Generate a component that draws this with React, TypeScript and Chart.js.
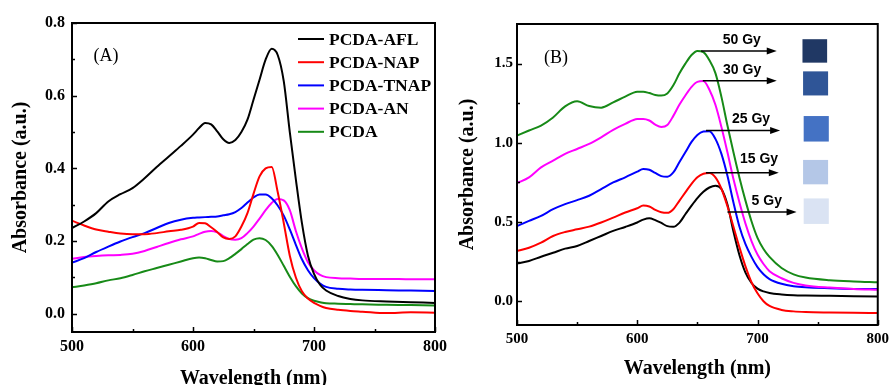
import React, { useEffect, useRef } from 'react';
import { Chart, registerables } from 'chart.js';
Chart.register(...registerables);

// ---------- data ----------
const wavelengths = [500, 510, 520, 530, 540, 550, 560, 570, 580, 590, 600, 605, 610, 615, 620, 625, 630, 635, 640, 645, 650, 655, 660, 665, 670, 675, 680, 685, 690, 695, 700, 705, 710, 720, 730, 740, 760, 780, 800];

// Panel A
const pcdaAFL = [0.236, 0.254, 0.277, 0.309, 0.329, 0.346, 0.373, 0.404, 0.433, 0.462, 0.493, 0.511, 0.525, 0.521, 0.502, 0.480, 0.470, 0.478, 0.500, 0.534, 0.589, 0.644, 0.699, 0.729, 0.712, 0.640, 0.500, 0.370, 0.250, 0.160, 0.110, 0.080, 0.064, 0.049, 0.041, 0.037, 0.034, 0.032, 0.030];
const pcdaNAP = [0.256, 0.243, 0.232, 0.226, 0.221, 0.219, 0.219, 0.222, 0.227, 0.231, 0.240, 0.250, 0.249, 0.238, 0.225, 0.210, 0.206, 0.213, 0.240, 0.277, 0.330, 0.378, 0.400, 0.404, 0.335, 0.250, 0.160, 0.100, 0.062, 0.042, 0.030, 0.022, 0.016, 0.011, 0.008, 0.006, 0.002, 0.004, 0.003];
const pcdaTNAP = [0.141, 0.153, 0.170, 0.185, 0.199, 0.211, 0.222, 0.236, 0.250, 0.259, 0.264, 0.265, 0.266, 0.267, 0.268, 0.271, 0.274, 0.280, 0.291, 0.306, 0.320, 0.328, 0.328, 0.318, 0.298, 0.270, 0.232, 0.190, 0.150, 0.120, 0.098, 0.083, 0.074, 0.069, 0.067, 0.066, 0.065, 0.064, 0.063];
const pcdaAN = [0.151, 0.156, 0.159, 0.161, 0.162, 0.165, 0.173, 0.184, 0.195, 0.205, 0.213, 0.220, 0.226, 0.228, 0.224, 0.214, 0.206, 0.204, 0.208, 0.222, 0.240, 0.262, 0.285, 0.305, 0.316, 0.312, 0.285, 0.228, 0.180, 0.142, 0.120, 0.107, 0.101, 0.098, 0.097, 0.096, 0.096, 0.095, 0.095];
const pcda = [0.073, 0.078, 0.084, 0.092, 0.098, 0.107, 0.117, 0.126, 0.135, 0.144, 0.153, 0.155, 0.153, 0.148, 0.144, 0.145, 0.153, 0.165, 0.178, 0.192, 0.204, 0.208, 0.203, 0.187, 0.162, 0.132, 0.102, 0.076, 0.056, 0.043, 0.036, 0.032, 0.029, 0.028, 0.027, 0.026, 0.025, 0.024, 0.023];

const seriesNamesA = ['PCDA-AFL', 'PCDA-NAP', 'PCDA-TNAP', 'PCDA-AN', 'PCDA'];
const seriesValuesA = [pcdaAFL, pcdaNAP, pcdaTNAP, pcdaAN, pcda];
const coloursA = ['#000000', '#ff0000', '#0000ff', '#ff00ff', '#178a17'];

// Panel B
const gy50 = [1.046, 1.078, 1.109, 1.160, 1.230, 1.262, 1.232, 1.222, 1.255, 1.292, 1.322, 1.323, 1.314, 1.302, 1.298, 1.312, 1.363, 1.437, 1.500, 1.553, 1.580, 1.572, 1.521, 1.440, 1.290, 1.109, 0.940, 0.780, 0.635, 0.505, 0.400, 0.330, 0.280, 0.210, 0.170, 0.150, 0.133, 0.125, 0.120];
const gy30 = [0.746, 0.782, 0.845, 0.887, 0.930, 0.961, 0.993, 1.035, 1.082, 1.120, 1.150, 1.151, 1.141, 1.115, 1.100, 1.112, 1.170, 1.240, 1.299, 1.352, 1.385, 1.390, 1.335, 1.240, 1.100, 0.940, 0.771, 0.623, 0.490, 0.380, 0.295, 0.235, 0.190, 0.145, 0.116, 0.100, 0.086, 0.077, 0.072];
const gy25 = [0.475, 0.507, 0.539, 0.581, 0.613, 0.638, 0.666, 0.708, 0.750, 0.782, 0.818, 0.835, 0.830, 0.810, 0.790, 0.786, 0.813, 0.877, 0.940, 1.004, 1.050, 1.071, 1.073, 1.025, 0.930, 0.792, 0.623, 0.470, 0.360, 0.280, 0.215, 0.170, 0.140, 0.110, 0.095, 0.088, 0.082, 0.078, 0.077];
const gy15 = [0.317, 0.338, 0.370, 0.412, 0.437, 0.454, 0.471, 0.497, 0.528, 0.560, 0.587, 0.604, 0.598, 0.577, 0.562, 0.558, 0.581, 0.634, 0.687, 0.739, 0.782, 0.805, 0.809, 0.782, 0.710, 0.600, 0.470, 0.340, 0.220, 0.120, 0.050, 0.000, -0.030, -0.055, -0.064, -0.068, -0.071, -0.073, -0.074];
const gy5 = [0.239, 0.254, 0.281, 0.306, 0.332, 0.349, 0.380, 0.412, 0.444, 0.469, 0.497, 0.515, 0.524, 0.512, 0.494, 0.474, 0.470, 0.495, 0.549, 0.602, 0.651, 0.691, 0.718, 0.729, 0.708, 0.610, 0.440, 0.290, 0.180, 0.115, 0.080, 0.062, 0.052, 0.043, 0.038, 0.036, 0.034, 0.032, 0.030];

const seriesNamesB = ['50 Gy', '30 Gy', '25 Gy', '15 Gy', '5 Gy'];
const seriesValuesB = [gy50, gy30, gy25, gy15, gy5];
const coloursB = ['#178a17', '#ff00ff', '#0000ff', '#ff0000', '#000000'];

// ticks
const xTicks = [500, 600, 700, 800];
const xMinorTicks = [550, 650, 750];
const yTicksA = [0, 0.2, 0.4, 0.6, 0.8];
const yMinorTicksA = [0.1, 0.3, 0.5, 0.7];
const yTicksB = [0, 0.5, 1.0, 1.5];
const yMinorTicksB = [0.25, 0.75, 1.25];

// dose annotations (data units of panel B)
const doseArrowY = [1.580, 1.392, 1.077, 0.811, 0.564];
const doseArrowStart = [653.1, 654.5, 657.2, 657.2, 675.0];
const doseArrowEnd = [716.0, 716.0, 718.8, 717.7, 732.5];
const doseLabelX = [686.9, 687.2, 694.6, 701.3, 707.7];
const doseLabelY = [1.649, 1.458, 1.151, 0.895, 0.632];
const swatchX0 = [737.4, 737.9, 738.4, 737.9, 738.4];
const swatchX1 = [757.9, 758.7, 759.3, 758.7, 759.3];
const swatchTop = [1.654, 1.451, 1.169, 0.892, 0.649];
const swatchBottom = [1.506, 1.299, 1.008, 0.738, 0.488];
const swatchColours = ['#203864', '#2f5597', '#4472c4', '#b4c7e7', '#dae3f3'];

const SERIF = "'Times New Roman', 'Liberation Serif', serif";
const SANS = "Arial, 'Liberation Sans', sans-serif";

// ---------- plugins ----------
const frameTicksPlugin = {
  id: 'frameTicks',
  afterDraw(chart: any, _args: any, opts: any) {
    const { ctx, chartArea } = chart;
    const { left, right, top, bottom } = chartArea;
    const x = chart.scales.x;
    const y = chart.scales.y;
    ctx.save();
    ctx.strokeStyle = '#000';
    ctx.lineWidth = 2;
    ctx.strokeRect(left, top, right - left, bottom - top);
    ctx.lineWidth = 1.5;
    ctx.beginPath();
    for (const v of opts.xMajor) {
      const px = Math.round(x.getPixelForValue(v)) + 0.5;
      ctx.moveTo(px, bottom);
      ctx.lineTo(px, bottom - 5);
    }
    for (const v of opts.xMinor) {
      const px = Math.round(x.getPixelForValue(v)) + 0.5;
      ctx.moveTo(px, bottom);
      ctx.lineTo(px, bottom - 3);
    }
    for (const v of opts.yMajor) {
      const py = Math.round(y.getPixelForValue(v)) + 0.5;
      ctx.moveTo(left, py);
      ctx.lineTo(left + 5, py);
    }
    for (const v of opts.yMinor) {
      const py = Math.round(y.getPixelForValue(v)) + 0.5;
      ctx.moveTo(left, py);
      ctx.lineTo(left + 3, py);
    }
    ctx.stroke();
    // panel tag
    ctx.fillStyle = '#000';
    ctx.font = `18px ${SERIF}`;
    ctx.textAlign = 'center';
    ctx.textBaseline = 'middle';
    ctx.fillText(opts.tag, left + opts.tagDx, top + opts.tagDy);
    ctx.restore();
  },
};

const legendAPlugin = {
  id: 'legendA',
  afterDraw(chart: any) {
    const { ctx } = chart;
    ctx.save();
    ctx.font = `bold 17.5px ${SERIF}`;
    ctx.textAlign = 'left';
    ctx.textBaseline = 'middle';
    chart.data.datasets.forEach((ds: any, i: number) => {
      const yy = 39 + i * 23.2;
      ctx.strokeStyle = ds.borderColor;
      ctx.lineWidth = 2;
      ctx.beginPath();
      ctx.moveTo(298, yy);
      ctx.lineTo(324, yy);
      ctx.stroke();
      ctx.fillStyle = '#000';
      ctx.fillText(ds.label, 329, yy + 1);
    });
    ctx.restore();
  },
};

const doseAnnotationPlugin = {
  id: 'doseAnnotations',
  afterDraw(chart: any) {
    const { ctx } = chart;
    const x = chart.scales.x;
    const y = chart.scales.y;
    ctx.save();
    ctx.strokeStyle = '#000';
    ctx.fillStyle = '#000';
    ctx.lineWidth = 1.5;
    for (let i = 0; i < doseArrowY.length; i++) {
      const py = y.getPixelForValue(doseArrowY[i]);
      const x0 = x.getPixelForValue(doseArrowStart[i]);
      const x1 = x.getPixelForValue(doseArrowEnd[i]);
      ctx.beginPath();
      ctx.moveTo(x0, py);
      ctx.lineTo(x1 - 8, py);
      ctx.stroke();
      ctx.beginPath();
      ctx.moveTo(x1, py);
      ctx.lineTo(x1 - 10, py - 3.5);
      ctx.lineTo(x1 - 10, py + 3.5);
      ctx.closePath();
      ctx.fill();
      ctx.font = `bold 14px ${SANS}`;
      ctx.textAlign = 'center';
      ctx.textBaseline = 'middle';
      ctx.fillText(seriesNamesB[i], x.getPixelForValue(doseLabelX[i]), y.getPixelForValue(doseLabelY[i]));
      const sx0 = x.getPixelForValue(swatchX0[i]);
      const sx1 = x.getPixelForValue(swatchX1[i]);
      const sy0 = y.getPixelForValue(swatchTop[i]);
      const sy1 = y.getPixelForValue(swatchBottom[i]);
      ctx.fillStyle = swatchColours[i];
      ctx.fillRect(sx0, sy0, sx1 - sx0, sy1 - sy0);
      ctx.fillStyle = '#000';
    }
    ctx.restore();
  },
};

// ---------- chart builder ----------
function buildConfig(p: any) {
  return {
    type: 'line',
    data: {
      datasets: p.names.map((name: string, i: number) => ({
        label: name,
        data: wavelengths.map((w, j) => ({ x: w, y: p.values[i][j] })),
        borderColor: p.colours[i],
        backgroundColor: p.colours[i],
        borderWidth: 2,
        pointRadius: 0,
        cubicInterpolationMode: 'monotone',
        fill: false,
      })),
    },
    options: {
      responsive: false,
      animation: false,
      layout: { padding: p.padding },
      plugins: {
        legend: { display: false },
        tooltip: { enabled: false },
        frameTicks: {
          xMajor: xTicks,
          xMinor: xMinorTicks,
          yMajor: p.yTicks,
          yMinor: p.yMinor,
          tag: p.tag,
          tagDx: p.tagDx,
          tagDy: p.tagDy,
        },
      },
      scales: {
        x: {
          type: 'linear',
          min: 500,
          max: 800,
          grid: { display: false, drawTicks: false },
          border: { display: false },
          afterBuildTicks: (s: any) => { s.ticks = xTicks.map((v) => ({ value: v })); },
          afterFit: (s: any) => { s.height = p.xAxisHeight; },
          ticks: {
            color: '#000',
            padding: 5,
            maxRotation: 0,
            autoSkip: false,
            font: { family: SERIF, size: p.tickSize, weight: 'bold' },
            callback: (v: any) => String(v),
          },
          title: {
            display: true,
            text: 'Wavelength (nm)',
            color: '#000',
            font: { family: SERIF, size: 20, weight: 'bold' },
            padding: { top: 0, bottom: p.xTitlePad },
          },
        },
        y: {
          type: 'linear',
          min: p.yMin,
          max: p.yMax,
          grid: { display: false, drawTicks: false },
          border: { display: false },
          afterBuildTicks: (s: any) => { s.ticks = p.yTicks.map((v: number) => ({ value: v })); },
          afterFit: (s: any) => { s.width = p.yAxisWidth; },
          ticks: {
            color: '#000',
            padding: p.yTickPad,
            autoSkip: false,
            font: { family: SERIF, size: p.tickSize, weight: 'bold' },
            callback: (v: any) => Number(v).toFixed(1),
          },
          title: {
            display: true,
            text: 'Absorbance (a.u.)',
            color: '#000',
            font: { family: SERIF, size: 20, weight: 'bold' },
            padding: { top: p.yTitlePad, bottom: 0 },
          },
        },
      },
    },
    plugins: p.plugins,
  };
}

function Panel(props: { params: any; left: number; width: number }) {
  const ref = useRef<HTMLCanvasElement>(null);
  useEffect(() => {
    if (!ref.current) return;
    const chart = new Chart(ref.current, buildConfig(props.params) as any);
    return () => chart.destroy();
  }, []);
  return (
    <canvas
      ref={ref}
      width={props.width}
      height={395}
      style={{ position: 'absolute', left: props.left, top: 0, width: props.width, height: 395 }}
    />
  );
}

const paramsA = {
  names: seriesNamesA,
  values: seriesValuesA,
  colours: coloursA,
  yMin: -0.05,
  yMax: 0.8,
  yTicks: yTicksA,
  yMinor: yMinorTicksA,
  padding: { left: 0, top: 23, right: 14, bottom: 0 },
  xAxisHeight: 63,
  yAxisWidth: 72,
  tickSize: 16,
  yTickPad: 7,
  xTitlePad: 4,
  yTitlePad: 9,
  tag: '(A)',
  tagDx: 34,
  tagDy: 33,
  plugins: [frameTicksPlugin, legendAPlugin],
};

const paramsB = {
  names: seriesNamesB,
  values: seriesValuesB,
  colours: coloursB,
  yMin: -0.15,
  yMax: 1.75,
  yTicks: yTicksB,
  yMinor: yMinorTicksB,
  padding: { left: 0, top: 24, right: 12, bottom: 0 },
  xAxisHeight: 70,
  yAxisWidth: 65,
  tickSize: 15,
  yTickPad: 4,
  xTitlePad: 14,
  yTitlePad: 4,
  tag: '(B)',
  tagDx: 39,
  tagDy: 34,
  plugins: [frameTicksPlugin, doseAnnotationPlugin],
};

export default function App() {
  return (
    <div style={{ position: 'absolute', left: 0, top: 0, width: 894, height: 385, overflow: 'hidden', background: '#fff' }}>
      <Panel params={paramsA} left={0} width={452} />
      <Panel params={paramsB} left={452} width={442} />
    </div>
  );
}
